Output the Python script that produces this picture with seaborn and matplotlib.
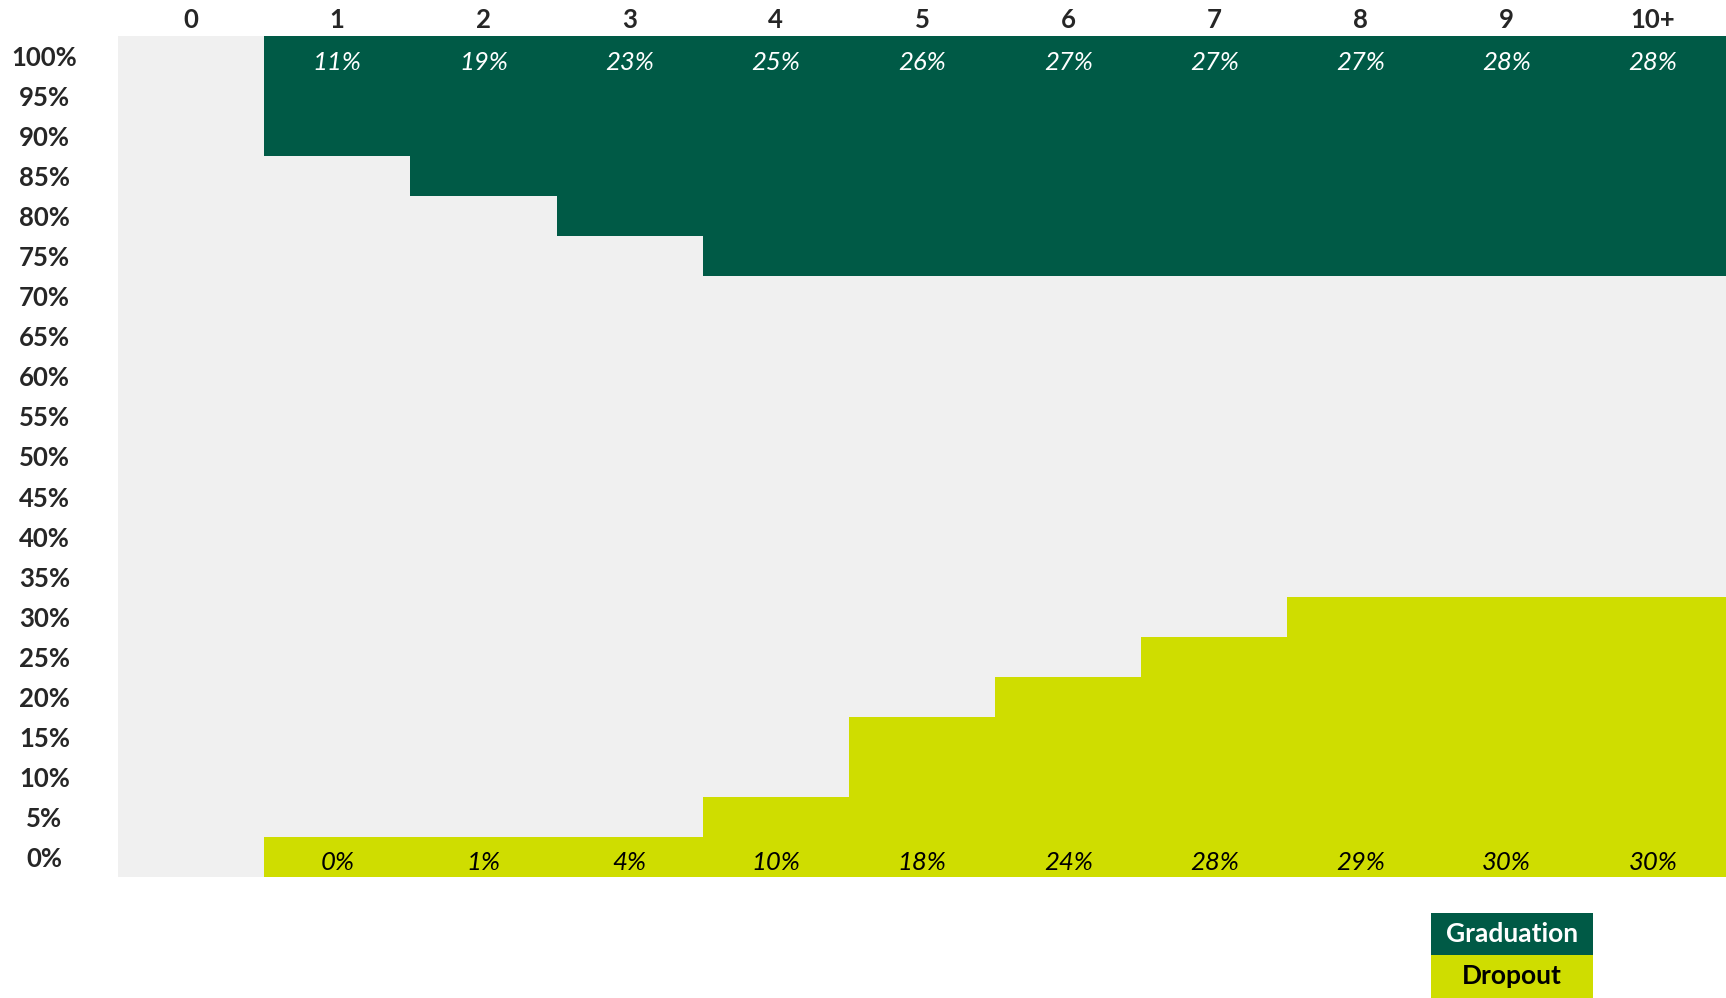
import numpy as np
import matplotlib
matplotlib.use("Agg")
import matplotlib.pyplot as plt
from matplotlib.colors import ListedColormap
from matplotlib.patches import Rectangle
import seaborn as sns

# data
columns = ['0', '1', '2', '3', '4', '5', '6', '7', '8', '9', '10+']
row_labels = [f'{p}%' for p in range(100, -1, -5)]
grad_pct = [None, 11, 19, 23, 25, 26, 27, 27, 27, 28, 28]
grad_cells = [0, 3, 4, 5, 6, 6, 6, 6, 6, 6, 6]
drop_pct = [None, 0, 1, 4, 10, 18, 24, 28, 29, 30, 30]
drop_cells = [0, 1, 1, 1, 2, 4, 5, 6, 7, 7, 7]

GRAY = '#f0f0f0'
GREEN = '#005a46'
YELLOW = '#cfdd00'

sns.set_theme(style='white')
plt.rcParams['font.family'] = ['Lato', 'DejaVu Sans']

# category grid: 0 = empty, 1 = graduation, 2 = dropout
n_rows, n_cols = len(row_labels), len(columns)
grid = np.zeros((n_rows, n_cols), dtype=int)
for j in range(n_cols):
    grid[:grad_cells[j], j] = 1
    if drop_cells[j]:
        grid[n_rows - drop_cells[j]:, j] = 2

fig = plt.figure(figsize=(17.26, 9.98), dpi=100)
ax = fig.add_axes([118 / 1726, 1 - 877 / 998, (1726 - 118) / 1726, (877 - 36) / 998])

sns.heatmap(grid, cmap=ListedColormap([GRAY, GREEN, YELLOW]), vmin=-0.5, vmax=2.5,
            cbar=False, linewidths=0, xticklabels=columns, yticklabels=row_labels, ax=ax)

ax.xaxis.tick_top()
ax.tick_params(axis='x', length=0, pad=3, labelsize=18.5)
ax.tick_params(axis='y', length=0, pad=53, labelsize=18.5)
for lab in ax.get_xticklabels():
    lab.set_fontweight('bold')
    lab.set_rotation(0)
for lab in ax.get_yticklabels():
    lab.set_fontweight('bold')
    lab.set_rotation(0)
    lab.set_horizontalalignment('center')
    lab.set_verticalalignment('center_baseline')

# value labels in the top and bottom rows
for j in range(n_cols):
    if grad_pct[j] is not None:
        ax.text(j + 0.5, 0.6, f'{grad_pct[j]}%', ha='center', va='center_baseline',
                color='white', fontsize=18.5, style='italic')
    if drop_pct[j] is not None:
        ax.text(j + 0.5, n_rows - 0.42, f'{drop_pct[j]}%', ha='center', va='center_baseline',
                color='black', fontsize=18.5, style='italic')

# legend boxes
W, H = 1726, 998
for (label, fc, tc), y0 in zip([('Graduation', GREEN, 'white'), ('Dropout', YELLOW, 'black')],
                               [913, 955]):
    fig.patches.append(Rectangle((1431 / W, 1 - (y0 + 43) / H), 162 / W, 43 / H,
                                 transform=fig.transFigure, facecolor=fc, edgecolor='none'))
    fig.text(1512 / W, 1 - (y0 + 21.5) / H, label, ha='center', va='center',
             color=tc, fontsize=19, fontweight='bold')

fig.savefig('out.png', dpi=100)
